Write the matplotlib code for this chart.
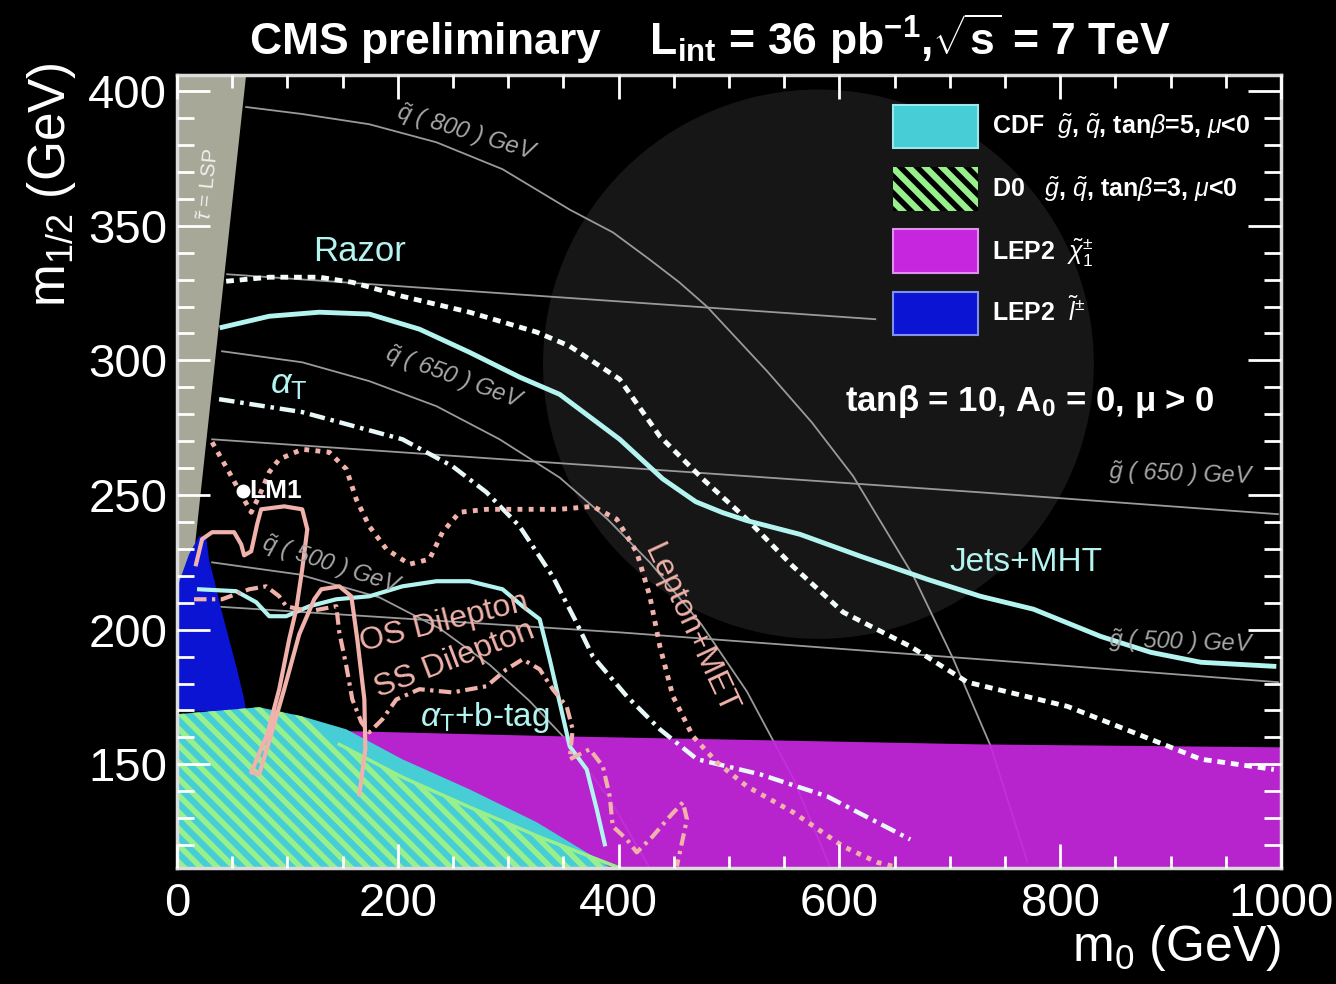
import matplotlib
matplotlib.use("Agg")
import matplotlib.pyplot as plt
from matplotlib.patches import Polygon, Patch, Ellipse

plt.rcParams['font.family'] = ['Liberation Sans', 'DejaVu Sans']
plt.rcParams['mathtext.fontset'] = 'custom'
plt.rcParams['mathtext.rm'] = 'Liberation Sans'
plt.rcParams['mathtext.it'] = 'Liberation Sans:italic'
plt.rcParams['mathtext.bf'] = 'Liberation Sans:bold'
plt.rcParams['hatch.linewidth'] = 4.0

# ---- excluded regions (m0, m1/2) ----
lsp_m0 = [0, 62.6, 0]
lsp_m12 = [406, 406, 170]

lep_slep_m0 = [0, 1.8, 10.9, 20, 26.3, 29, 33.6, 40, 47.2, 54.4, 60.8, 62.6, 0]
lep_slep_m12 = [169.7, 217.6, 228, 234.7, 234.7, 226, 218.7, 207.6, 196.4, 185.3, 174.2, 169.7, 169.7]

lep_chi_m0 = [0, 156, 346.6, 727.8, 1000, 1000, 0]
lep_chi_m12 = [163, 162.3, 160.4, 157.4, 156.3, 111.5, 111.5]

cdf_m0 = [0, 74.4, 113.4, 153.4, 204, 265, 325.8, 385.7, 392, 0]
cdf_m12 = [168.6, 171.2, 167.8, 163, 151.9, 140.7, 128.5, 113.6, 111.5, 111.5]

d0_m0 = [0, 74.4, 113.4, 147, 204.2, 265, 328.5, 401, 0]
d0_m12 = [168.6, 171.2, 167.8, 157.4, 145.2, 134.1, 123, 111.5, 111.5]

# ---- iso-mass contours ----
sq800_m0 = [62.6, 113.4, 174.2, 235, 294.9, 355.7, 395, 428, 455, 480, 534.5, 575, 612.5,
            667, 703.3, 736.8, 770.4]
sq800_m12 = [394.1, 391.5, 387.7, 381, 371, 356, 347.5, 337.5, 329, 320, 296, 277, 257,
             220, 189, 157, 113.6]
sq650_m0 = [40.8, 113.4, 174.2, 235, 292.2, 346.6, 390, 428.3, 475, 516.3, 558, 591.7]
sq650_m12 = [303.4, 299.3, 292.3, 283, 270.7, 256.5, 241, 225, 202, 177, 145, 111.7]
sq500_m0 = [31.8, 110.7, 183.3, 237.7, 283.1, 319.4, 349.4, 392, 428]
sq500_m12 = [225, 220.5, 212, 200.5, 187, 173.5, 160.5, 137, 111.7]
gl800_m0 = [45.4, 632.5]
gl800_m12 = [332, 315.3]
gl650_m0 = [31.8, 401, 727.8, 997.3]
gl650_m12 = [270.7, 260.3, 251, 242.9]
gl500_m0 = [31.8, 401, 727.8, 997.3]
gl500_m12 = [208.7, 199, 189, 180.5]

# ---- CMS limits ----
razor_m0 = [44.5, 83.5, 128.9, 158.8, 204.2, 265, 325.8, 355.7, 401, 437.4, 476.4, 516.3,
            558, 603.4, 664.2, 716, 806.7, 882, 927.4, 993.6]
razor_m12 = [329.4, 330.9, 330.9, 329, 323.8, 317.9, 310.5, 305.3, 293, 271.8, 255.9, 241,
             223.5, 206.5, 193.8, 180.5, 171.5, 159.3, 151.9, 148.1]

jets_m0 = [40.8, 83.5, 128.9, 174.2, 219.6, 265, 310.3, 346.6, 401, 440, 470, 494, 516.3,
           564.4, 618.9, 679.7, 727.8, 775.9, 836.7, 882, 927.4, 993.6]
jets_m12 = [312.3, 316.4, 317.9, 317.2, 311.6, 303, 293.8, 287.4, 270.7, 256, 247.5, 243.5,
            240.5, 235.4, 227.3, 218.7, 212.4, 207.6, 197.5, 191.6, 187.9, 186.4]

alphat_m0 = [38.1, 113.4, 204.2, 249.5, 280.4, 310.3, 340.3, 360.3, 376.6, 407.4, 437.4,
             471, 528.1, 588.9, 664.2]
alphat_m12 = [285.6, 280.8, 270.7, 260.7, 251, 238.4, 219.8, 203.9, 190.1, 175.3, 163,
              151.9, 146.3, 138.1, 122.1]

lepmet_m0 = [31.8, 47.2, 59, 67.2, 74.4, 83.5, 92.6, 113.4, 137.9, 153.4, 162.4, 174.2,
             189.7, 210.5, 228.7, 240.5, 255.9, 280.4, 346.6, 376.6, 398.4, 416.5, 428.3,
             437.4, 449.2, 467.3, 489.1, 516.3, 558.1, 603.4, 634.3, 648.8]
lepmet_m12 = [269.6, 258.5, 249.6, 243.6, 249.6, 258.5, 263.3, 267, 265.9, 259.6, 248.4,
              238.4, 229.9, 224.3, 226.2, 236.2, 243.6, 244.7, 244.7, 245.8, 241, 228.7,
              212.4, 193.8, 175.3, 160.4, 150.7, 141.8, 132.2, 119.5, 113.6, 112.1]

os_m0 = [17.2, 22.7, 31.8, 51.7, 58.1, 60.8, 67.2, 72.6, 76.2, 97.1, 113.4, 118, 113.4,
         108, 101.6, 92.6, 81.7, 67.2, 74.4, 85.3, 97.1, 110.7, 124.3, 130.7, 147, 157.9,
         163.3, 169.7, 170.6, 165.2]
os_m12 = [224.3, 233.6, 236.2, 236.2, 231.7, 227.6, 229.1, 239.2, 244.7, 245.8, 244.7,
          237.3, 222.4, 207.6, 196.4, 177.9, 161.1, 147, 146.3, 161.1, 177.9, 198.3, 211.3,
          215, 216.1, 212.4, 196.4, 174.1, 155.6, 138.9]

ss_m0 = [15.4, 40.8, 65.3, 80.8, 92.6, 98.9, 119.8, 144.3, 147, 153.4, 158.8, 167, 174.2,
         186, 198.7, 219.6, 249.5, 280.4, 298.5, 313.1, 328.5, 340.3, 353, 358.4, 355.7,
         373.9, 385.7, 392, 394.7, 407.4, 416.5, 431, 446.5, 458.3, 461.9, 455.5, 452.8]
ss_m12 = [211.3, 211.3, 215, 216.1, 212.4, 208.7, 206.8, 208.7, 199, 186.4, 174.1, 165.6,
          161.9, 166.7, 174.1, 177.9, 176.7, 179, 185.3, 189, 185.3, 177.9, 171.5, 163,
          151.9, 155.6, 149.3, 138.1, 127, 122.1, 117.3, 123.3, 130.7, 135.9, 129.6,
          117.3, 112.1]

btag_m0 = [20, 53.5, 71.7, 83.5, 98.9, 119.8, 144.3, 174.2, 204.2, 235, 265, 294.9,
           313.1, 328.5, 337.6, 346.6, 355.7, 371.1, 380.2, 387.5]
btag_m12 = [215, 214.3, 210.2, 205, 205, 208.7, 211.3, 212.4, 216.1, 218, 218, 215,
            208.7, 203.9, 189, 173, 156.7, 148.1, 133.3, 120.3]

lm1 = (60, 251.4)

c_cdf = '#46cdd6'
c_d0 = '#98f08c'
c_chi = '#c626de'
c_slep = '#0a14d2'
c_cyan = '#b4f4f0'
c_pink = '#f0b2aa'
c_grey = '#9a9a9a'

fig = plt.figure(figsize=(13.36, 9.84), dpi=100, facecolor='black')
ax = fig.add_axes([0.1325, 0.1179, 0.8263, 0.8059], facecolor='black')

# faint glare disc
ax.add_patch(Ellipse((581, 298.6), 499, 204, facecolor='#161616', edgecolor='none', zorder=0))

for xs, ys in [(sq800_m0, sq800_m12), (sq650_m0, sq650_m12), (sq500_m0, sq500_m12),
               (gl800_m0, gl800_m12), (gl650_m0, gl650_m12), (gl500_m0, gl500_m12)]:
    ax.plot(xs, ys, color=c_grey, lw=1.3, zorder=1)

ax.add_patch(Polygon(list(zip(lep_chi_m0, lep_chi_m12)), facecolor=c_chi, edgecolor='none',
                     alpha=0.93, zorder=2))
ax.add_patch(Polygon(list(zip(lsp_m0, lsp_m12)), facecolor='#a8a898', edgecolor='none', zorder=2))
ax.add_patch(Polygon(list(zip(lep_slep_m0, lep_slep_m12)), facecolor=c_slep, edgecolor='none', zorder=3))
ax.add_patch(Polygon(list(zip(cdf_m0, cdf_m12)), facecolor=c_cdf, edgecolor='none', zorder=3))
ax.add_patch(Polygon(list(zip(d0_m0, d0_m12)), facecolor='none', edgecolor=c_d0, hatch='\\\\',
                     lw=0, zorder=4))
ax.plot(d0_m0[3:8], d0_m12[3:8], color=c_d0, lw=2.5, zorder=4)

# limit curves
ax.plot(razor_m0, razor_m12, color='#f4fcfc', lw=3.5, ls=(0, (1.6, 1.2)), zorder=6)
ax.plot(jets_m0, jets_m12, color=c_cyan, lw=3.5, zorder=6)
ax.plot(alphat_m0, alphat_m12, color='#e8f8f8', lw=3.2, ls=(0, (3.5, 1.3, 0.8, 1.3)), zorder=6)
ax.plot(btag_m0, btag_m12, color=c_cyan, lw=3, zorder=6)
ax.plot(lepmet_m0, lepmet_m12, color=c_pink, lw=3.5, ls=(0, (1, 1.3)), zorder=6)
ax.plot(os_m0, os_m12, color=c_pink, lw=3, zorder=6)
ax.plot(ss_m0, ss_m12, color=c_pink, lw=3, ls=(0, (3, 1.3, 0.8, 1.3)), zorder=6)
ax.plot(*lm1, 'o', color='white', ms=9, zorder=7)

# labels on the plane
ax.text(lm1[0] + 5, lm1[1], 'LM1', color='white', fontsize=19, fontweight='bold',
        va='center', ha='left', zorder=8)
ax.text(165, 340.5, 'Razor', color=c_cyan, fontsize=25, ha='center', va='center', zorder=8)
ax.text(101.6, 291.5, r'$\alpha_{\mathrm{T}}$', color=c_cyan, fontsize=26, ha='center', va='center', zorder=8)
ax.text(768.6, 225, 'Jets+MHT', color=c_cyan, fontsize=24, ha='center', va='center', zorder=8)
ax.text(242, 202.5, 'OS Dilepton', color=c_pink, fontsize=23, rotation=14, ha='center',
        va='center', zorder=8)
ax.text(251, 189, 'SS Dilepton', color=c_pink, fontsize=23, rotation=21, ha='center',
        va='center', zorder=8)
ax.text(278.6, 167.5, r'$\alpha_{\mathrm{T}}$+b-tag', color=c_cyan, fontsize=24, ha='center',
        va='center', zorder=8)
ax.text(464.6, 200.1, 'Lepton+MET', color=c_pink, fontsize=23, rotation=-65, ha='center',
        va='center', zorder=8)
ax.text(29, 365.5, r'$\tilde{\tau}$ = LSP', color='#f0f0f0', fontsize=15, rotation=84,
        ha='center', va='center', zorder=8)

gkw = dict(color='#a8a8a8', fontsize=17, style='italic', ha='center', va='center', zorder=8)
ax.text(262, 384.5, r'$\tilde{q}$ ( 800 ) GeV', rotation=-17, **gkw)
ax.text(251, 293.5, r'$\tilde{q}$ ( 650 ) GeV', rotation=-20, **gkw)
ax.text(140, 224, r'$\tilde{q}$ ( 500 ) GeV', rotation=-18, **gkw)
ax.text(910, 257.7, r'$\tilde{g}$ ( 650 ) GeV', rotation=-2, **gkw)
ax.text(910, 195.3, r'$\tilde{g}$ ( 500 ) GeV', rotation=-2, **gkw)

ax.text(773, 284.8, r'tan$\mathbf{\beta}$ = 10, A$_{\mathbf{0}}$ = 0, $\mathbf{\mu}$ > 0',
        color='white', fontsize=25, fontweight='bold', ha='center', va='center', zorder=8)

# legend
handles = [
    Patch(facecolor=c_cdf, edgecolor='#9ae8ee', lw=1.5),
    Patch(facecolor=c_d0, edgecolor='black', hatch='\\\\', lw=0),
    Patch(facecolor=c_chi, edgecolor='#e090f0', lw=1.5),
    Patch(facecolor=c_slep, edgecolor='#8090f0', lw=1.5),
]
labels = [
    r'CDF  $\tilde{g}$, $\tilde{q}$, tan$\beta$=5, $\mu$<0',
    r'D0   $\tilde{g}$, $\tilde{q}$, tan$\beta$=3, $\mu$<0',
    r'LEP2  $\tilde{\chi}_1^{\pm}$',
    r'LEP2  $\tilde{l}^{\pm}$',
]
leg = fig.legend(handles, labels, loc='upper left', bbox_to_anchor=(0.6684, 0.8935),
                 frameon=False, borderpad=0, borderaxespad=0, handlelength=3.4,
                 handleheight=2.3, labelspacing=0.75, handletextpad=0.55,
                 prop={'size': 18, 'weight': 'bold'}, labelcolor='white')
leg.set_zorder(9)

# axes styling
ax.set_xlim(0, 1000)
ax.set_ylim(111.5, 406)
ax.set_xticks([0, 200, 400, 600, 800, 1000])
ax.set_xticks(range(0, 1001, 50), minor=True)
ax.set_yticks([150, 200, 250, 300, 350, 400])
ax.set_yticks(range(120, 406, 10), minor=True)
ax.tick_params(axis='both', which='both', direction='in', colors='white', top=True,
               right=True, width=2, labelsize=34)
ax.tick_params(axis='x', which='major', length=17, pad=10)
ax.tick_params(axis='x', which='minor', length=9)
ax.tick_params(axis='y', which='major', length=24, pad=7)
ax.tick_params(axis='y', which='minor', length=12)
ax.xaxis.set_zorder(11)
ax.yaxis.set_zorder(11)
for sp in ax.spines.values():
    sp.set_color('#dcdcdc')
    sp.set_linewidth(2.5)
    sp.set_zorder(10)

ax.set_xlabel(r'm$_{0}$ (GeV)', color='white', fontsize=36, loc='right')
ax.xaxis.set_label_coords(1.0, -0.07)
ax.set_ylabel(r'm$_{1/2}$ (GeV)', color='white', fontsize=37, loc='top')
ax.yaxis.set_label_coords(-0.09, 1.016)

fig.text(0.5315, 0.961,
         r'CMS preliminary    L$_{\mathbf{int}}$ = 36 pb$^{\mathbf{-1}}$,$\mathbf{\sqrt{s}}$ = 7 TeV',
         color='white', fontsize=32, fontweight='bold', ha='center', va='center')

fig.savefig('out.png', dpi=100, facecolor='black')
